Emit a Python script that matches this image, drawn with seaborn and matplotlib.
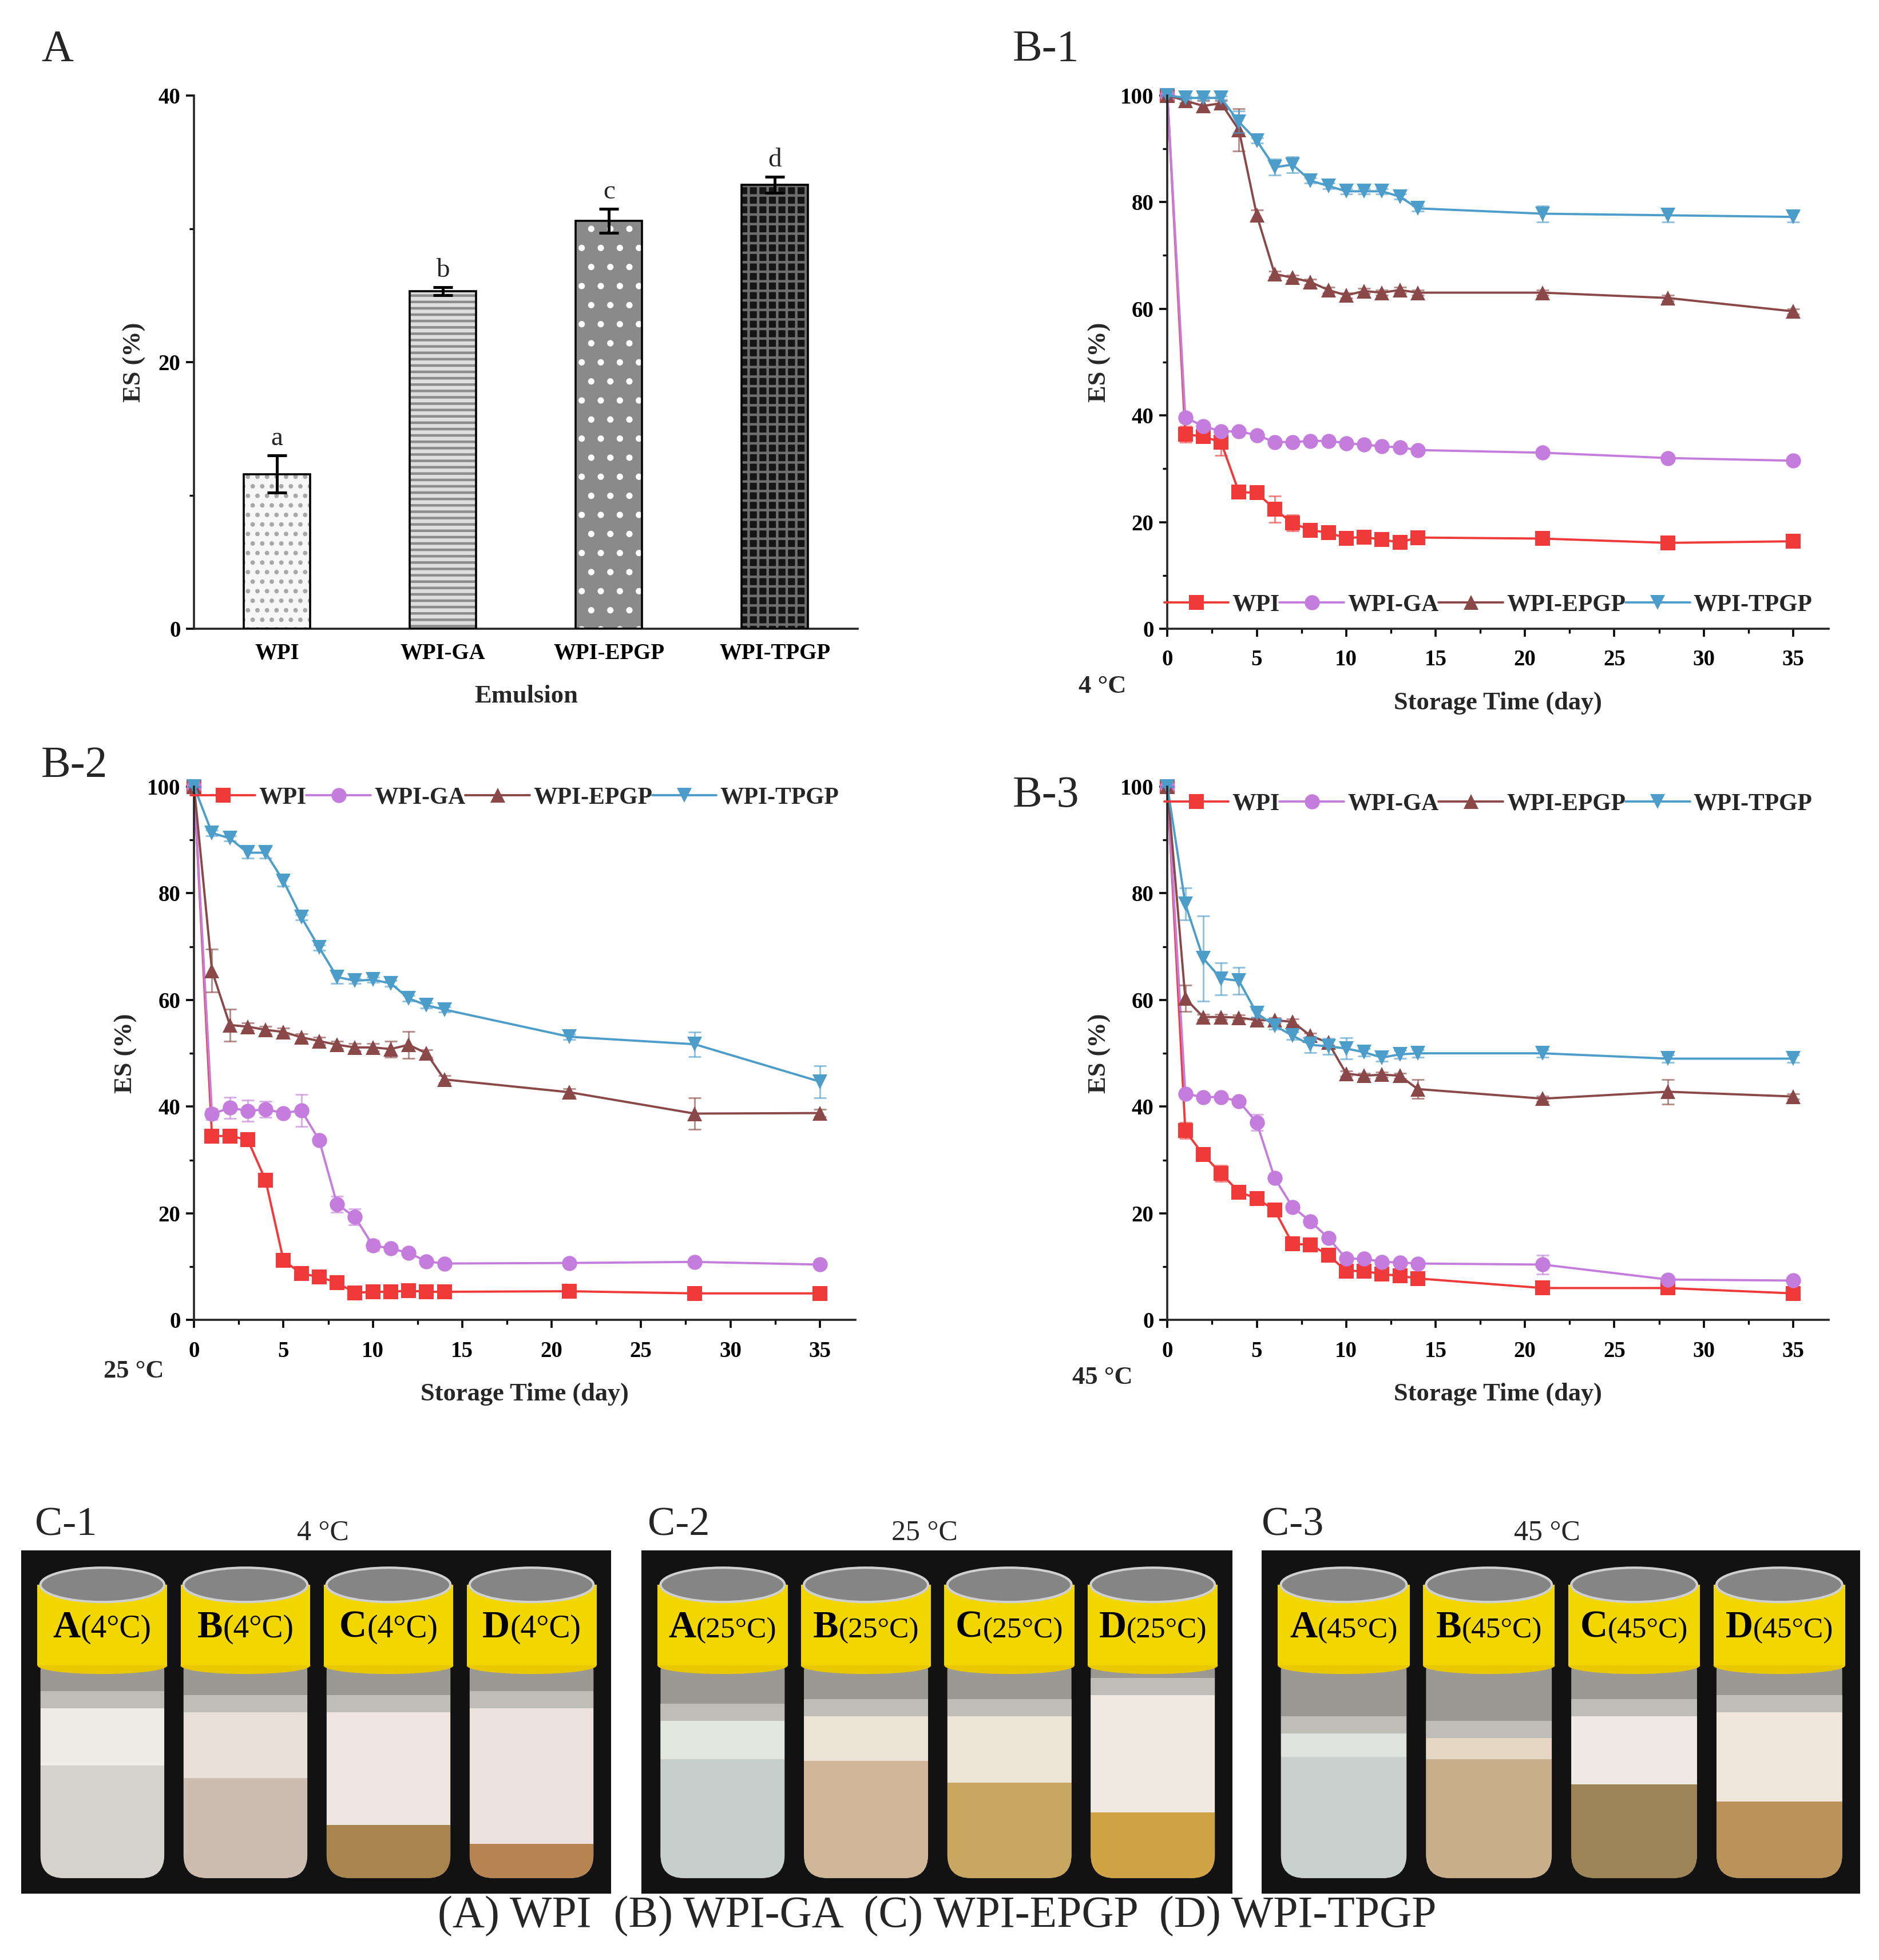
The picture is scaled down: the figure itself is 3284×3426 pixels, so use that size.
import pandas as pd
import seaborn as sns
import matplotlib.pyplot as plt
from matplotlib.patches import Rectangle, Ellipse, FancyBboxPatch
from matplotlib.offsetbox import TextArea, HPacker, AnnotationBbox

# ---- A: emulsion stability bars
emulsions = ["WPI", "WPI-GA", "WPI-EPGP", "WPI-TPGP"]
es_bar = [11.6, 25.3, 30.6, 33.3]
es_bar_err = [1.4, 0.3, 0.9, 0.6]
sig_letters = ["a", "b", "c", "d"]

# ---- B: ES (%) over storage time
days = [0, 1, 2, 3, 4, 5, 6, 7, 8, 9, 10, 11, 12, 13, 14, 21, 28, 35]

# 4 C
wpi_4 = [100, 36.5, 36.0, 35.0, 25.6, 25.5, 22.4, 19.8, 18.5, 18.0, 17.0, 17.2, 16.7, 16.2, 17.1, 16.9, 16.1, 16.4]
ga_4 = [100, 39.6, 38.0, 37.0, 37.0, 36.3, 35.0, 35.0, 35.2, 35.2, 34.8, 34.5, 34.2, 34.0, 33.5, 33.0, 32.0, 31.5]
epgp_4 = [100, 99.0, 98.0, 98.5, 93.5, 77.5, 66.5, 65.8, 65.0, 63.5, 62.5, 63.3, 63.0, 63.5, 63.0, 63.0, 62.0, 59.5]
tpgp_4 = [100, 99.5, 99.5, 99.5, 95.0, 91.5, 86.5, 87.0, 84.0, 83.0, 82.0, 82.0, 82.0, 81.0, 78.8, 77.8, 77.5, 77.2]
wpi_4_err = [0, 1.5, 1.0, 2.5, 0.5, 0.5, 2.5, 1.5, 0.5, 0.5, 0.5, 0.5, 0.5, 0.5, 0.5, 0.5, 0.5, 0.5]
ga_4_err = [0, 0.8, 0.5, 0.5, 0.5, 0.5, 0.5, 0.5, 0.5, 0.5, 0.5, 0.5, 0.5, 0.5, 0.5, 0.5, 0.5, 0.5]
epgp_4_err = [0, 0.5, 1.0, 0.5, 4.0, 1.0, 0.5, 0.5, 0.5, 0.5, 0.5, 0.5, 0.5, 0.5, 0.5, 0.5, 0.5, 0.5]
tpgp_4_err = [0, 0.3, 0.3, 0.3, 2.0, 0.5, 1.5, 1.5, 0.5, 0.5, 0.5, 0.5, 0.5, 0.5, 0.5, 1.5, 1.2, 1.0]

# 25 C
wpi_25 = [100, 34.5, 34.5, 33.8, 26.2, 11.2, 8.7, 8.1, 7.0, 5.1, 5.3, 5.3, 5.5, 5.3, 5.3, 5.4, 5.0, 5.0]
ga_25 = [100, 38.6, 39.8, 39.2, 39.5, 38.8, 39.3, 33.7, 21.7, 19.3, 14.0, 13.4, 12.6, 11.0, 10.6, 10.7, 10.9, 10.4]
epgp_25 = [100, 65.5, 55.3, 55.0, 54.4, 54.0, 53.0, 52.3, 51.6, 51.1, 51.1, 50.8, 51.6, 50.0, 45.1, 42.7, 38.7, 38.8]
tpgp_25 = [100, 91.3, 90.3, 87.6, 87.6, 82.3, 75.5, 69.8, 64.3, 63.6, 63.8, 63.1, 60.3, 59.0, 58.2, 53.1, 51.7, 44.7]
wpi_25_err = [0, 0.6, 0.5, 0.5, 0.5, 0.5, 0.5, 0.5, 0.5, 0.5, 0.5, 0.5, 0.5, 0.5, 0.5, 0.5, 0.5, 0.5]
ga_25_err = [0, 1.0, 2.0, 2.0, 1.5, 0.5, 3.0, 0.5, 1.5, 1.5, 1.0, 0.5, 0.5, 0.5, 0.5, 0.5, 0.5, 0.5]
epgp_25_err = [0, 4.0, 3.0, 0.7, 0.7, 0.7, 0.7, 0.7, 0.7, 0.7, 0.7, 1.5, 2.5, 0.7, 0.7, 0.7, 3.0, 0.7]
tpgp_25_err = [0, 0.5, 0.5, 1.0, 1.0, 1.0, 0.5, 0.5, 1.2, 0.5, 0.5, 0.5, 0.5, 0.5, 0.5, 0.5, 2.3, 3.0]

# 45 C
wpi_45 = [100, 35.5, 31.0, 27.5, 24.0, 22.8, 20.6, 14.3, 14.1, 12.2, 9.2, 9.2, 8.6, 8.3, 7.8, 6.0, 6.0, 5.0]
ga_45 = [100, 42.4, 41.8, 41.8, 41.0, 37.0, 26.6, 21.2, 18.5, 15.4, 11.5, 11.5, 10.9, 10.8, 10.6, 10.4, 7.6, 7.4]
epgp_45 = [100, 60.3, 56.8, 56.8, 56.7, 56.2, 56.2, 55.9, 53.3, 52.0, 46.2, 45.8, 46.0, 45.8, 43.3, 41.5, 42.8, 41.9]
tpgp_45 = [100, 78.0, 67.8, 64.0, 63.6, 57.5, 55.2, 53.3, 51.6, 51.3, 50.9, 50.2, 49.2, 49.8, 50.0, 50.0, 49.0, 49.0]
wpi_45_err = [0, 1.5, 0.5, 1.5, 0.5, 0.5, 0.5, 0.5, 0.5, 0.5, 0.5, 0.5, 0.5, 0.5, 0.5, 1.0, 0.5, 0.5]
ga_45_err = [0, 0.5, 0.5, 0.5, 0.5, 1.5, 0.5, 0.5, 0.5, 0.5, 0.5, 0.5, 0.5, 0.5, 0.5, 1.8, 0.5, 0.5]
epgp_45_err = [0, 2.5, 0.5, 0.5, 0.5, 0.5, 0.5, 0.5, 0.5, 0.5, 0.5, 0.5, 0.5, 0.5, 1.8, 0.5, 2.3, 0.5]
tpgp_45_err = [0, 3.0, 8.0, 3.0, 2.5, 0.7, 0.7, 0.7, 1.5, 1.5, 2.0, 0.7, 0.7, 0.7, 0.7, 0.7, 0.7, 0.7]

line_colors = ["#f03a3a", "#c47ddc", "#8b4848", "#4d9dcb"]
line_markers = ["s", "o", "^", "v"]

# ---- C: vial photos (layer heights as fraction of the vial body)
vial_letters = ["A", "B", "C", "D"]
serum_top_4 = [0.53, 0.47, 0.25, 0.16]
cream_top_4 = [0.80, 0.78, 0.78, 0.80]
serum_col_4 = ["#d6d3cc", "#cdbcb0", "#a8854c", "#b58450"]
cream_col_4 = ["#efebe6", "#e9dfd9", "#efe6e2", "#ede3de"]
serum_top_25 = [0.56, 0.55, 0.45, 0.31]
cream_top_25 = [0.74, 0.76, 0.76, 0.86]
serum_col_25 = ["#c7cfcc", "#d0b798", "#c8a860", "#d0a345"]
cream_col_25 = ["#e4e6e0", "#ece2d6", "#ede6d8", "#f0e9e2"]
serum_top_45 = [0.57, 0.56, 0.44, 0.36]
cream_top_45 = [0.68, 0.66, 0.76, 0.78]
serum_col_45 = ["#c9d1cf", "#c9ae8c", "#9c8456", "#b9935a"]
cream_col_45 = ["#dfe3e0", "#e6d8c4", "#f0e8e2", "#f1e6dc"]

sns.set_theme(style="ticks")
plt.rcParams["font.family"] = ["Liberation Serif", "DejaVu Serif"]
plt.rcParams["axes.linewidth"] = 1.3
plt.rcParams["hatch.linewidth"] = 1.6
for k in ["xtick", "ytick"]:
    plt.rcParams[k + ".direction"] = "out"
    plt.rcParams[k + ".major.width"] = 1.3
    plt.rcParams[k + ".minor.width"] = 1.2
    plt.rcParams[k + ".major.size"] = 5
    plt.rcParams[k + ".minor.size"] = 3
    plt.rcParams[k + ".color"] = "black"
    plt.rcParams[k + ".labelcolor"] = "black"

fig = plt.figure(figsize=(16.42, 17.13), dpi=200)
bold = dict(fontweight="bold")


def style_ticks(ax, size=14):
    for lab in ax.get_xticklabels() + ax.get_yticklabels():
        lab.set_fontweight("bold")
        lab.set_fontsize(size)
    sns.despine(ax=ax)


# ---------- A
axA = fig.add_axes([0.1033, 0.6792, 0.3533, 0.2722])
df_bar = pd.DataFrame({"Emulsion": emulsions, "ES": es_bar})
sns.barplot(data=df_bar, x="Emulsion", y="ES", ax=axA, width=0.4, color="white")
bar_styles = [("#f6f6f6", "..", "#a8a8a8"), ("#dedede", "---", "#8c8c8c"),
              ("#8a8a8a", ".", "#ffffff"), ("#151515", "++", "#6e6e6e")]
for p, (fc, h, hc) in zip(axA.patches, bar_styles):
    p.set_facecolor(fc)
    p.set_hatch(h)
    p.set_edgecolor(hc)
    p.set_linewidth(0.8)
    axA.add_patch(Rectangle((p.get_x(), p.get_y()), p.get_width(), p.get_height(),
                            fill=False, edgecolor="black", lw=1.3, zorder=3))
axA.errorbar(range(len(es_bar)), es_bar, yerr=es_bar_err, fmt="none", ecolor="black",
             elinewidth=1.8, capsize=6, capthick=1.8, zorder=4)
for i, (v, e, s) in enumerate(zip(es_bar, es_bar_err, sig_letters)):
    axA.text(i, v + e + 0.35, s, ha="center", va="bottom", fontsize=17)
axA.set_xlim(-0.5, 3.5)
axA.set_ylim(0, 40)
axA.set_yticks([0, 20, 40])
axA.set_yticks([10, 30], minor=True)
axA.tick_params(axis="x", length=0, pad=9)
axA.set_xlabel("Emulsion", fontsize=16, labelpad=13, **bold)
axA.set_ylabel("ES (%)", fontsize=16, labelpad=8, **bold)
style_ticks(axA)

# ---------- B
panels = [
    ([0.6213, 0.6792, 0.352, 0.2722], [wpi_4, ga_4, epgp_4, tpgp_4],
     [wpi_4_err, ga_4_err, epgp_4_err, tpgp_4_err], 0.045),
    ([0.1033, 0.3265, 0.352, 0.2722], [wpi_25, ga_25, epgp_25, tpgp_25],
     [wpi_25_err, ga_25_err, epgp_25_err, tpgp_25_err], 0.979),
    ([0.6213, 0.3265, 0.352, 0.2722], [wpi_45, ga_45, epgp_45, tpgp_45],
     [wpi_45_err, ga_45_err, epgp_45_err, tpgp_45_err], 0.967),
]
for rect, series, errs, leg_y in panels:
    ax = fig.add_axes(rect)
    for name, vals, err, c, m in zip(emulsions, series, errs, line_colors, line_markers):
        ax.errorbar(days, vals, yerr=err, fmt="none", ecolor=c, alpha=0.6,
                    elinewidth=1.1, capsize=4, capthick=1.1, clip_on=False)
        sns.lineplot(x=days, y=vals, ax=ax, color=c, marker=m, markersize=9.5,
                     markeredgewidth=0, linewidth=1.4, label=name, clip_on=False)
    ax.set_xlim(0, 37)
    ax.set_ylim(0, 100)
    ax.set_xticks([0, 5, 10, 15, 20, 25, 30, 35])
    ax.set_xticks([2.5, 7.5, 12.5, 17.5, 22.5, 27.5, 32.5], minor=True)
    ax.set_yticks([0, 20, 40, 60, 80, 100])
    ax.set_yticks([10, 30, 50, 70, 90], minor=True)
    ax.tick_params(axis="x", which="major", pad=8)
    ax.set_xlabel("Storage Time (day)", fontsize=16, labelpad=13, **bold)
    ax.set_ylabel("ES (%)", fontsize=16, labelpad=6, **bold)
    ax.legend(ncol=4, loc="center left", bbox_to_anchor=(-0.005, leg_y), frameon=False,
              handlelength=2.7, handletextpad=0.15, columnspacing=0.0,
              borderpad=0, borderaxespad=0, prop=dict(weight="bold", size=15))
    style_ticks(ax)

# ---------- panel / temperature labels
fig.text(0.022, 0.9744, "A", fontsize=28, va="center")
fig.text(0.539, 0.9744, "B-1", fontsize=28, va="center")
fig.text(0.022, 0.609, "B-2", fontsize=28, va="center")
fig.text(0.539, 0.594, "B-3", fontsize=28, va="center")
fig.text(0.5867, 0.6498, "4 \u00b0C", fontsize=16, ha="center", va="center", **bold)
fig.text(0.0713, 0.3003, "25 \u00b0C", fontsize=16, ha="center", va="center", **bold)
fig.text(0.5867, 0.2971, "45 \u00b0C", fontsize=16, ha="center", va="center", **bold)


# ---------- C: vials
def draw_vial(ax, xc, letter, temp, serum_top, cream_top, serum_col, cream_col):
    w, y0, y1 = 0.84, 0.045, 0.665
    h = y1 - y0
    body = FancyBboxPatch((xc - w / 2, y0), w, h + 0.05,
                          boxstyle="round,pad=0,rounding_size=0.16",
                          mutation_aspect=0.43, facecolor="#9b9994",
                          edgecolor="none", zorder=1)
    ax.add_patch(body)
    layers = [(0, serum_top, serum_col), (serum_top, cream_top, cream_col)]
    for lo, hi, col in layers:
        r = Rectangle((xc - w / 2, y0 + lo * h), w, (hi - lo) * h,
                      facecolor=col, edgecolor="none", zorder=2)
        r.set_clip_path(body)
        ax.add_patch(r)
    # soft band between headspace and cream
    band = Rectangle((xc - w / 2, y0 + cream_top * h), w, 0.05,
                     facecolor="#d8d6d0", edgecolor="none", alpha=0.6, zorder=2)
    ax.add_patch(band)
    # yellow label and cap
    ax.add_patch(Ellipse((xc, y1), w + 0.04, 0.05, facecolor="#e9c800",
                         edgecolor="none", zorder=3))
    ax.add_patch(Rectangle((xc - w / 2 - 0.02, y1), w + 0.04, 0.235,
                           facecolor="#f2d600", edgecolor="none", zorder=3))
    ax.add_patch(Ellipse((xc, 0.9), w, 0.1, facecolor="#858585",
                         edgecolor="#d0d0d0", lw=1.5, zorder=4))
    small = 20 if len(temp) == 1 else 18.5
    txt = HPacker(children=[
        TextArea(letter, textprops=dict(fontsize=24, fontweight="bold", color="black")),
        TextArea("(" + temp + "\u00b0C)", textprops=dict(fontsize=small, color="black")),
    ], align="baseline", pad=0, sep=0)
    ab = AnnotationBbox(txt, (xc, 0.775), frameon=False, zorder=5)
    ax.add_artist(ab)


photo_panels = [
    ([0.0113, 0.0339, 0.314, 0.175], "4", serum_top_4, cream_top_4, serum_col_4, cream_col_4),
    ([0.3413, 0.0339, 0.3147, 0.175], "25", serum_top_25, cream_top_25, serum_col_25, cream_col_25),
    ([0.6713, 0.0339, 0.3187, 0.175], "45", serum_top_45, cream_top_45, serum_col_45, cream_col_45),
]
for rect, temp, st, ct, sc, cc in photo_panels:
    axc = fig.add_axes(rect)
    axc.set_facecolor("#121212")
    axc.set_xlim(0, 4)
    axc.set_ylim(0, 1)
    axc.set_xticks([])
    axc.set_yticks([])
    for sp in axc.spines.values():
        sp.set_visible(False)
    for i, letter in enumerate(vial_letters):
        draw_vial(axc, 0.55 + 0.97 * i, letter, temp, st[i], ct[i], sc[i], cc[i])

fig.text(0.0187, 0.2217, "C-1", fontsize=26, va="center")
fig.text(0.3447, 0.2217, "C-2", fontsize=26, va="center")
fig.text(0.6713, 0.2217, "C-3", fontsize=26, va="center")
fig.text(0.172, 0.2179, "4 \u00b0C", fontsize=18, ha="center", va="center")
fig.text(0.492, 0.2179, "25 \u00b0C", fontsize=18, ha="center", va="center")
fig.text(0.8233, 0.2179, "45 \u00b0C", fontsize=18, ha="center", va="center")
fig.text(0.4987, 0.0224, "(A) WPI  (B) WPI-GA  (C) WPI-EPGP  (D) WPI-TPGP",
         fontsize=28, ha="center", va="center")

fig.savefig("out.png", dpi=200, facecolor="white")
